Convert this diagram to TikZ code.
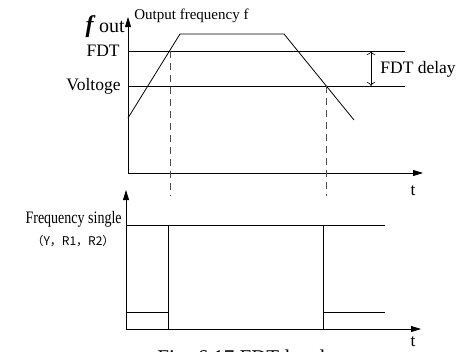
\documentclass[tikz,border=0pt]{standalone}
\usepackage{graphicx}
\usepackage{fontspec}
\setmainfont{Liberation Serif}
\newfontfamily\cjk{Noto Sans CJK SC}
\usetikzlibrary{arrows.meta}

\begin{document}
\begin{tikzpicture}[x=1pt,y=-1pt,line width=0.8pt,
  axis/.style={-{Triangle[length=10pt,width=6pt]}},
  guide/.style={black!70,line width=0.6pt,dash pattern=on 7pt off 5pt},
  lbl/.style={font=\fontsize{17.5}{17.5}\selectfont,inner sep=0pt}]
  \useasboundingbox (0,0) rectangle (470,351);
  % upper plot: output frequency
  \coordinate (o1) at (128,173);
  \coordinate (y1) at (128,17);
  \coordinate (x1) at (423,173);
  \draw[axis] (o1) -- (y1);
  \draw[axis] (o1) -- (x1);
  \coordinate (fdtL) at (128,51);   \coordinate (fdtR) at (405,51);
  \coordinate (volL) at (128,86);   \coordinate (volR) at (405,86);
  \draw (fdtL) -- (fdtR);
  \draw (volL) -- (volR);
  \coordinate (c0) at (128,118);
  \coordinate (c1) at (180,34);
  \coordinate (c2) at (284,34);
  \coordinate (c3) at (354,120);
  \draw (c0) -- (c1) -- (c2) -- (c3);
  \coordinate (up) at (170,51);     \coordinate (upE) at (170,196);
  \coordinate (dn) at (326,86);     \coordinate (dnE) at (326,196);
  \draw[guide] (up) -- (upE);
  \draw[guide] (dn) -- (dnE);
  \coordinate (dA) at (371,51);     \coordinate (dB) at (371,86);
  \draw[{To[length=4pt]}-{To[length=4pt]},line width=0.6pt] (dA) -- (dB);
  \node[lbl,anchor=west] (delay) at (380,69) {FDT delay};
  \node[lbl,anchor=east] (fdt) at (120,51) {FDT};
  \node[lbl,anchor=east] (vol) at (121,86) {Voltoge};
  \node[font=\fontsize{20}{20}\selectfont,inner sep=0pt,anchor=base east] (fout) at (125,32)
    {{\fontsize{24}{24}\selectfont\textbf{\textit{f}}}\,out};
  \node[font=\fontsize{15}{15}\selectfont,inner sep=0pt,anchor=base west] (ofreq) at (134,19)
    {Output frequency f};
  \node[lbl,anchor=base] (t1) at (413,195) {t};
  % lower plot: frequency signal
  \coordinate (o2) at (126,329);
  \coordinate (y2) at (126,190);
  \coordinate (x2) at (421,329);
  \draw[axis] (o2) -- (y2);
  \draw[axis] (o2) -- (x2);
  \coordinate (hiL) at (126,225);   \coordinate (hiR) at (385,225);
  \coordinate (loL) at (126,312);   \coordinate (loA) at (168,312);
  \coordinate (loB) at (323,312);   \coordinate (loR) at (385,312);
  \coordinate (sA) at (168,225);    \coordinate (sAb) at (168,329);
  \coordinate (sB) at (323,225);    \coordinate (sBb) at (323,329);
  \draw (hiL) -- (hiR);
  \draw (loL) -- (loA);
  \draw (loB) -- (loR);
  \draw (sA) -- (sAb);
  \draw (sB) -- (sBb);
  \node[font=\fontsize{17.5}{17.5}\selectfont,inner sep=0pt,anchor=base east] (fsig) at (122,223)
    {\scalebox{0.8}[1]{Frequency single}};
  \node[font=\cjk\fontsize{12}{12}\selectfont,inner sep=0pt] (ports) at (73,241)
    {（Y，R1，R2）};
  \node[lbl,anchor=base] (t2) at (413,346) {t};
  % caption, cut by the page edge
  \node[font=\fontsize{21}{21}\selectfont,inner sep=0pt,anchor=base west] (cap) at (157,364)
    {Fig. 6.17 FDT level};
\end{tikzpicture}
\end{document}
